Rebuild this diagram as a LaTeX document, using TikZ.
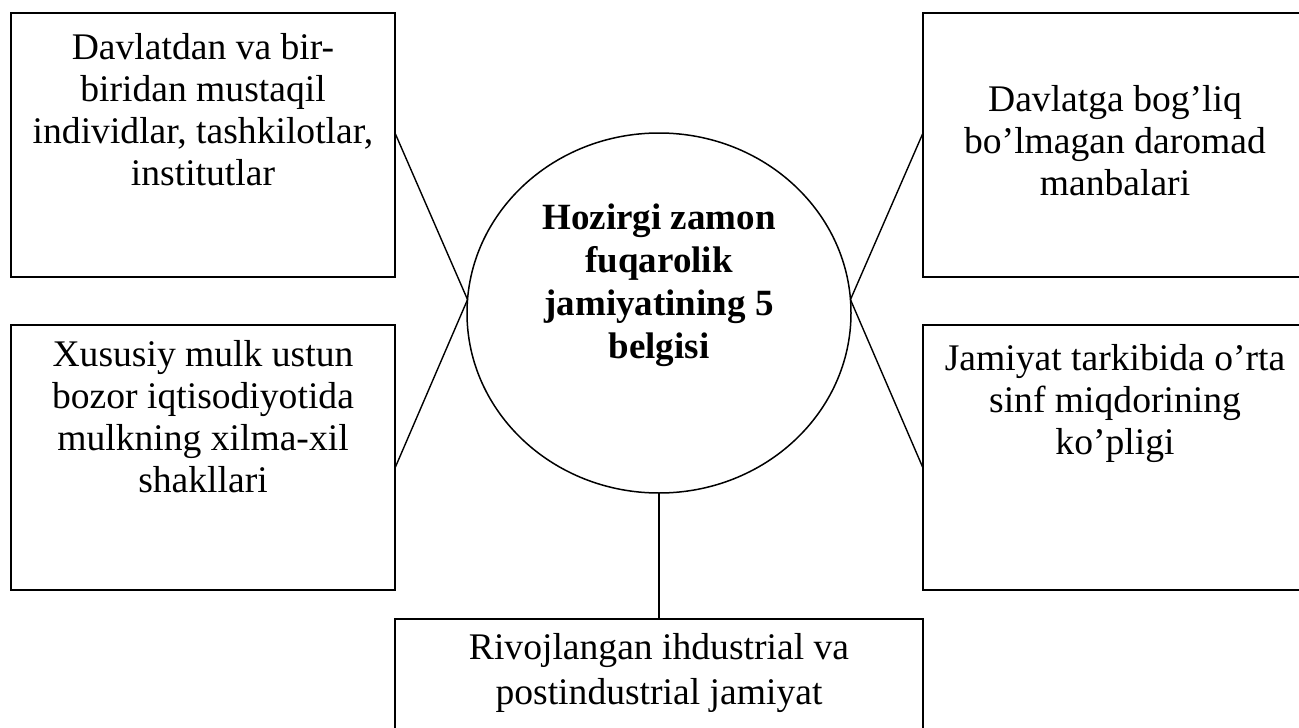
\documentclass[tikz,border=0pt]{standalone}
\usepackage{fontspec}
\setmainfont{Liberation Serif}
\usetikzlibrary{shapes.geometric,calc}
\tikzset{
  boxnode/.style={draw=black, line width=1.6pt, rectangle, inner sep=0pt, outer sep=0pt, anchor=north west},
  txt/.style={font=\fontsize{37.6}{42}\selectfont, align=center, inner sep=0pt, anchor=north},
  btxt/.style={font=\fontsize{37}{43}\selectfont\bfseries, align=center, inner sep=0pt, anchor=north},
  conn/.style={draw=black, line width=1.4pt},
}
\begin{document}
\begin{tikzpicture}[x=1pt,y=-1pt]
\useasboundingbox (0,0) rectangle (1299,728);
\fill[white] (0,0) rectangle (1299,728);
% boxes
\node[boxnode, minimum width=384pt, minimum height=264pt] (tl) at (11,13) {};
\node[boxnode, minimum width=384pt, minimum height=265pt] (ml) at (11,325) {};
\node[boxnode, minimum width=384pt, minimum height=264pt] (tr) at (923,13) {};
\node[boxnode, minimum width=384pt, minimum height=265pt] (mr) at (923,325) {};
\node[boxnode, minimum width=528pt, minimum height=130pt] (bt) at (395,619) {};
% centre ellipse
\node[draw=black, line width=1.5pt, ellipse, minimum width=384pt, minimum height=360pt, inner sep=0pt, outer sep=0pt] (el) at (659,313) {};
% texts
\node[txt] (tltxt) at (203,29.6) {\strut Davlatdan va bir-\\biridan mustaqil\\individlar, tashkilotlar,\\institutlar};
\node[txt] (mltxt) at (203,336.6) {\strut Xususiy mulk ustun\\bozor iqtisodiyotida\\mulkning xilma-xil\\shakllari};
\node[txt] (trtxt) at (1115,81.6) {\strut Davlatga bog’liq\\bo’lmagan daromad\\manbalari};
\node[txt] (mrtxt) at (1115,340.6) {\strut Jamiyat tarkibida o’rta\\sinf miqdorining\\ko’pligi};
\node[txt, font=\fontsize{37.6}{45}\selectfont] (bttxt) at (659,627.5) {\strut Rivojlangan ihdustrial va\\postindustrial jamiyat};
\node[btxt] (eltxt) at (659,199) {\strut Hozirgi zamon\\fuqarolik\\jamiyatining 5\\belgisi};
% connectors
\draw[conn] ([yshift=12pt]tl.east) -- (el.176);
\draw[conn] ([yshift=-10.5pt]ml.east) -- (el.176);
\draw[conn] ([yshift=12pt]tr.west) -- (el.4);
\draw[conn] ([yshift=-10.5pt]mr.west) -- (el.4);
\draw[conn] (el.south) -- (bt.north);
\end{tikzpicture}
\end{document}
